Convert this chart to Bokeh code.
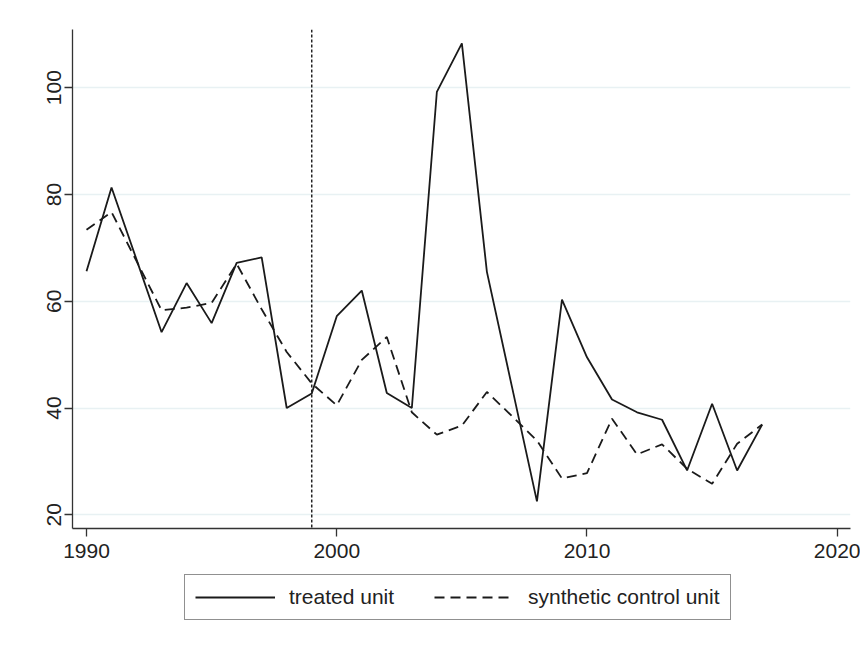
from bokeh.plotting import figure
from bokeh.layouts import column
from bokeh.models import Legend, FixedTicker, Span, ColumnDataSource
from bokeh.embed import file_html
from bokeh.resources import INLINE

years = list(range(1990, 2018))
treated = [65.6, 81.3, 67.8, 54.2, 63.4, 55.9, 67.2, 68.2, 40.0, 42.7,
           57.2, 62.0, 42.8, 40.0, 99.2, 108.3, 65.5, 44.0, 22.5, 60.3,
           49.5, 41.6, 39.2, 37.8, 28.3, 40.8, 28.3, 36.9]
synthetic = [73.4, 76.7, 67.5, 58.3, 58.8, 59.7, 67.0, 58.5, 50.5, 44.6,
             40.5, 49.0, 53.3, 39.2, 35.0, 36.7, 43.0, 38.5, 33.9, 26.8,
             27.8, 38.0, 31.3, 33.2, 28.6, 25.8, 33.3, 36.9]
treatment_year = 1999
x_ticks = [1990, 2000, 2010, 2020]
y_ticks = [20, 40, 60, 80, 100]
series_labels = ["treated unit", "synthetic control unit"]

src = ColumnDataSource(dict(year=years, treated=treated, synthetic=synthetic))

FONT = "Liberation Sans"
INK = "#1a1a1a"
SOLID_W = 1.8
DASH = "10 6"

# ---------------- main plot ----------------
p = figure(width=860, height=570, output_backend="svg", toolbar_location=None,
           x_range=(1989.44, 2020.53), y_range=(17.43, 110.9),
           min_border_left=72, min_border_right=10, min_border_top=29,
           min_border_bottom=42)
p.background_fill_color = "white"
p.border_fill_color = "white"
p.outline_line_color = None

for ax in (p.xaxis[0], p.yaxis[0]):
    ax.axis_line_color = "#333333"
    ax.axis_line_width = 1.3
    ax.major_tick_line_color = "#333333"
    ax.major_tick_line_width = 1.3
    ax.major_tick_out = 8
    ax.major_tick_in = 0
    ax.minor_tick_line_color = None
    ax.major_label_text_font = FONT
    ax.major_label_text_font_size = "21px"
    ax.major_label_text_color = "#222222"

p.xaxis.ticker = FixedTicker(ticks=x_ticks)
p.yaxis.ticker = FixedTicker(ticks=y_ticks)
p.yaxis.major_label_orientation = "vertical"
p.xaxis.major_label_standoff = 7
p.yaxis.major_label_standoff = 3

p.xgrid.grid_line_color = None
p.ygrid.grid_line_color = "#e8f1f3"
p.ygrid.grid_line_width = 1.5

vline = Span(location=treatment_year, dimension="height", line_color="#222222",
             line_width=1.5, line_dash="3 2")
p.add_layout(vline)

p.line("year", "treated", source=src, line_color=INK, line_width=SOLID_W)
p.line("year", "synthetic", source=src, line_color=INK, line_width=SOLID_W,
       line_dash=DASH)

# ---------------- legend strip ----------------
lg = figure(width=860, height=70, output_backend="svg", toolbar_location=None,
            x_axis_type=None, y_axis_type=None,
            min_border_left=0, min_border_right=0, min_border_top=0,
            min_border_bottom=0)
lg.outline_line_color = None
lg.grid.visible = False
lg.background_fill_color = "white"
lg.border_fill_color = "white"
l1 = lg.line("year", "treated", source=src, line_color=INK, line_width=SOLID_W)
l2 = lg.line("year", "synthetic", source=src, line_color=INK, line_width=SOLID_W,
             line_dash=DASH)
l1.visible = False
l2.visible = False

legend = Legend(items=[(series_labels[0], [l1]), (series_labels[1], [l2])],
                orientation="horizontal", location=(112, 20),
                label_text_font=FONT, label_text_font_size="21px",
                label_text_color="#222222",
                glyph_width=80, glyph_height=20, label_standoff=14,
                spacing=40, padding=10, margin=0,
                border_line_color="#222222", border_line_width=1.2,
                background_fill_color="white", background_fill_alpha=1.0,
                inactive_fill_alpha=0.0)
lg.add_layout(legend)

layout = column(p, lg, spacing=0)
open("out.html", "w").write(file_html(layout, INLINE))
